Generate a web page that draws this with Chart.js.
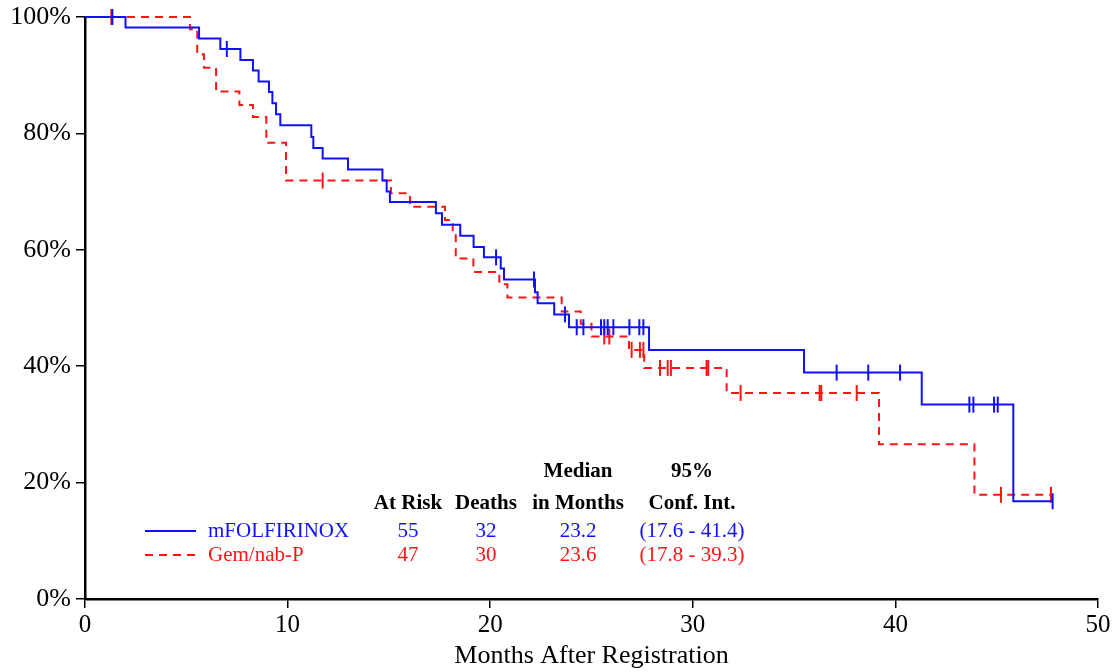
<!DOCTYPE html>
<html>
<head>
<meta charset="utf-8">
<script src="https://cdn.jsdelivr.net/npm/chart.js@4"></script>
<style>
  html, body { margin: 0; padding: 0; background: #fff; }
  #wrap { width: 1117px; height: 672px; }
</style>
</head>
<body>
<div id="wrap"><canvas id="km" width="1117" height="672"></canvas></div>
<script>
// Curva mFOLFIRINOX: tempo da queda (meses) e sobrevida depois da queda (%)
const folfTempo = [0, 2.0, 5.63, 6.68, 7.67, 8.29, 8.57, 9.08, 9.25, 9.43, 9.64, 11.17, 11.27, 11.73, 12.98, 14.68, 14.89, 15.05, 17.32, 17.62, 18.52, 19.18, 19.69, 20.52, 20.68, 22.21, 22.34, 23.16, 23.89, 27.84, 35.49, 41.3, 45.82, 47.76];
const folfSobrevida = [100, 98.2, 96.3, 94.5, 92.6, 90.8, 88.9, 87.1, 85.2, 83.3, 81.4, 79.4, 77.5, 75.7, 73.8, 71.9, 70.0, 68.2, 66.3, 64.3, 62.4, 60.5, 58.7, 56.8, 54.9, 52.7, 50.8, 48.9, 46.7, 42.8, 38.9, 33.4, 16.8, 16.8];
const folfCensura = [1.35, 7.0, 20.29, 22.16, 23.69, 24.27, 24.6, 25.47, 25.63, 25.8, 26.08, 26.87, 27.36, 27.56, 37.1, 38.66, 40.23, 43.65, 43.85, 44.87, 45.05, 47.76];

// Curva Gem/nab-P
const gemTempo = [0, 5.18, 5.54, 5.87, 6.47, 7.62, 8.29, 8.95, 9.92, 15.1, 16.04, 17.77, 18.15, 18.3, 19.17, 20.45, 20.85, 23.53, 24.47, 25.0, 26.85, 27.6, 31.67, 39.19, 43.9, 47.68];
const gemSobrevida = [100, 97.9, 93.6, 91.3, 87.2, 84.9, 82.8, 78.4, 71.9, 69.7, 67.4, 65.1, 62.8, 58.5, 56.2, 54.1, 51.8, 49.4, 47.3, 45.1, 42.8, 39.7, 35.4, 26.6, 17.9, 17.9];
const gemCensura = [1.3, 11.73, 25.63, 25.88, 26.98, 27.39, 27.56, 28.38, 28.76, 28.92, 30.68, 30.76, 32.36, 36.26, 36.34, 38.09, 45.21, 47.68];

// Tabela da legenda
const grupos = ['mFOLFIRINOX', 'Gem/nab-P'];
const emRisco = ['55', '47'];
const mortes = ['32', '30'];
const medianas = ['23.2', '23.6'];
const intervalos = ['(17.6 - 41.4)', '(17.8 - 39.3)'];
const cabecalho1 = ['', '', 'Median', '95%'];
const cabecalho2 = ['At Risk', 'Deaths', 'in Months', 'Conf. Int.'];

const xTicks = [0, 10, 20, 30, 40, 50];
const yTicks = [0, 20, 40, 60, 80, 100];

const AZUL = '#1010ff';
const VERMELHO = '#ff1414';
const SERIF = '"Liberation Serif", "Times New Roman", serif';

const pontos = (tempos, valores) => tempos.map((t, i) => ({ x: t, y: valores[i] }));

// valor da curva num instante (para posicionar as marcas de censura)
const sobrevidaEm = (tempos, valores, t) => {
    let v = valores[0];
    for (let i = 0; i < tempos.length; i++) {
        if (tempos[i] <= t) v = valores[i];
    }
    return v;
};

const censuras = (lista, tempos, valores) => lista.map(t => ({ x: t, y: sobrevidaEm(tempos, valores, t) }));

const tabelaPlugin = {
    id: 'tabelaKM',
    afterDraw(chart) {
        const ctx = chart.ctx;
        const colunas = [408, 486, 578, 692];
        ctx.save();
        ctx.textAlign = 'center';
        ctx.textBaseline = 'middle';
        ctx.fillStyle = '#000';
        ctx.font = 'bold 21px ' + SERIF;
        colunas.forEach((cx, i) => {
            if (cabecalho1[i]) ctx.fillText(cabecalho1[i], cx, 472);
            ctx.fillText(cabecalho2[i], cx, 504);
        });

        const cores = [AZUL, VERMELHO];
        const linhasY = [531, 555];
        ctx.font = '21px ' + SERIF;
        grupos.forEach((g, r) => {
            const y = linhasY[r];
            ctx.strokeStyle = cores[r];
            ctx.lineWidth = 2;
            ctx.setLineDash(r === 1 ? [8, 6] : []);
            ctx.beginPath();
            ctx.moveTo(145, y);
            ctx.lineTo(196, y);
            ctx.stroke();
            ctx.setLineDash([]);

            ctx.fillStyle = cores[r];
            ctx.textAlign = 'left';
            ctx.fillText(g, 208, y);
            ctx.textAlign = 'center';
            ctx.fillText(emRisco[r], colunas[0], y);
            ctx.fillText(mortes[r], colunas[1], y);
            ctx.fillText(medianas[r], colunas[2], y);
            ctx.fillText(intervalos[r], colunas[3], y);
        });
        ctx.restore();
    }
};

new Chart(document.getElementById('km').getContext('2d'), {
    type: 'line',
    data: {
        datasets: [{
            label: grupos[0],
            data: pontos(folfTempo, folfSobrevida),
            stepped: 'before',
            borderColor: AZUL,
            borderWidth: 2,
            pointRadius: 0,
            clip: 6,
            fill: false
        }, {
            label: grupos[0] + ' censura',
            data: censuras(folfCensura, folfTempo, folfSobrevida),
            showLine: false,
            pointStyle: 'line',
            rotation: 90,
            pointRadius: 8,
            pointBorderWidth: 2,
            clip: 10,
            borderColor: AZUL,
            backgroundColor: AZUL
        }, {
            label: grupos[1],
            data: pontos(gemTempo, gemSobrevida),
            stepped: 'before',
            borderColor: VERMELHO,
            borderWidth: 2,
            borderDash: [8, 6],
            pointRadius: 0,
            clip: 6,
            fill: false
        }, {
            label: grupos[1] + ' censura',
            data: censuras(gemCensura, gemTempo, gemSobrevida),
            showLine: false,
            pointStyle: 'line',
            rotation: 90,
            pointRadius: 8,
            pointBorderWidth: 2,
            clip: 10,
            borderColor: VERMELHO,
            backgroundColor: VERMELHO
        }]
    },
    options: {
        responsive: false,
        animation: false,
        layout: { padding: { top: 17, right: 19, left: 0, bottom: 0 } },
        plugins: {
            legend: { display: false },
            tooltip: { enabled: false }
        },
        scales: {
            x: {
                type: 'linear',
                min: 0,
                max: 50,
                afterBuildTicks: (s) => { s.ticks = xTicks.map(v => ({ value: v })); },
                ticks: { color: '#000', font: { family: SERIF, size: 25 }, padding: 2, maxRotation: 0 },
                grid: { drawOnChartArea: false, color: '#000', lineWidth: 1.5, tickLength: 9 },
                border: { color: '#000', width: 2.5 },
                title: { display: true, text: 'Months After Registration', color: '#000', font: { family: SERIF, size: 26 }, padding: { top: 2, bottom: 0 } },
                afterFit: (s) => { s.height = 73; s.paddingLeft = 0; s.paddingRight = 0; }
            },
            y: {
                min: 0,
                max: 100,
                afterBuildTicks: (s) => { s.ticks = yTicks.map(v => ({ value: v })); },
                ticks: { color: '#000', font: { family: SERIF, size: 26 }, padding: 5, callback: v => v + '%' },
                grid: { drawOnChartArea: false, color: '#000', lineWidth: 1.5, tickLength: 9 },
                border: { color: '#000', width: 2.5 },
                afterFit: (s) => { s.width = 85; s.paddingTop = 0; s.paddingBottom = 0; }
            }
        }
    },
    plugins: [tabelaPlugin]
});
</script>
</body>
</html>
